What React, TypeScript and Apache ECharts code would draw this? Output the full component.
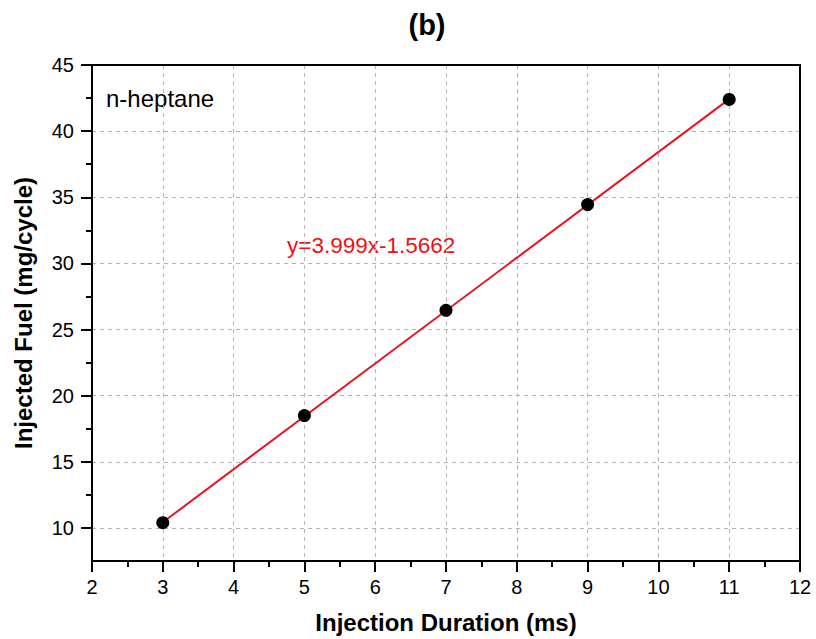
import React, { useEffect, useRef } from "react";
import * as echarts from "echarts";

// ---- data ----
const injectionDuration = [3, 5, 7, 9, 11];
const injectedFuel = [10.4, 18.5, 26.45, 34.45, 42.4];
const fitX = [3, 11];
const fitY = [10.43, 42.42];
const xRange = [2, 12];
const yRange = [7.5, 45];
const yLabelRange = [10, 45];
const xInterval = 1;
const yInterval = 5;
const titleText = "(b)";
const xName = "Injection Duration (ms)";
const yName = "Injected Fuel (mg/cycle)";
const fuelLabel = "n-heptane";
const equationLabel = "y=3.999x-1.5662";

const FONT = "'Liberation Sans', Arial, Helvetica, sans-serif";

export default function App() {
  const ref = useRef<HTMLDivElement>(null);
  useEffect(() => {
    if (!ref.current) return;
    const chart = echarts.init(ref.current, undefined, { renderer: "svg" });
    const W = 816, H = 639;
    const top = 65, bottomPx = 561, left = 92, rightPx = 800;
    const plotH = bottomPx - top;
    const y10px = top + ((yRange[1] - yLabelRange[0]) / (yRange[1] - yRange[0])) * plotH;
    const axisLineStyle = { color: "#000", width: 2 };
    const gridLine = { show: true, showMinLine: false, showMaxLine: false, lineStyle: { color: "#b4b4b4", width: 1, type: [4, 4] as any } };
    chart.setOption({
      animation: false,
      backgroundColor: "#fff",
      grid: [
        { left, right: W - rightPx, top, bottom: H - bottomPx },
        { left, right: W - rightPx, top, bottom: H - y10px },
      ],
      xAxis: [
        {
          gridIndex: 0, type: "value", position: "bottom", min: xRange[0], max: xRange[1], interval: xInterval,
          axisLine: { show: true, lineStyle: axisLineStyle },
          axisTick: { show: true, length: 11, lineStyle: { color: "#000", width: 2 } },
          minorTick: { show: true, splitNumber: 2, length: 6, lineStyle: { color: "#000", width: 2 } },
          axisLabel: { fontSize: 20, color: "#000", margin: 16, fontFamily: FONT },
          splitLine: gridLine,
          name: xName, nameLocation: "middle", nameGap: 49,
          nameTextStyle: { fontSize: 24, fontWeight: "bold", color: "#000", fontFamily: FONT },
        },
        {
          gridIndex: 0, type: "value", position: "top", min: xRange[0], max: xRange[1],
          axisLine: { show: true, lineStyle: axisLineStyle },
          axisTick: { show: false }, axisLabel: { show: false }, splitLine: { show: false },
        },
        { gridIndex: 1, type: "value", show: false, min: xRange[0], max: xRange[1] },
      ],
      yAxis: [
        {
          gridIndex: 0, type: "value", position: "left", min: yRange[0], max: yRange[1],
          axisLine: { show: true, lineStyle: axisLineStyle },
          axisTick: { show: false }, axisLabel: { show: false }, splitLine: { show: false },
          name: yName, nameLocation: "middle", nameGap: 57,
          nameTextStyle: { fontSize: 24, fontWeight: "bold", color: "#000", fontFamily: FONT },
        },
        {
          gridIndex: 0, type: "value", position: "right", min: yRange[0], max: yRange[1],
          axisLine: { show: true, lineStyle: axisLineStyle },
          axisTick: { show: false }, axisLabel: { show: false }, splitLine: { show: false },
        },
        {
          gridIndex: 1, type: "value", position: "left", min: yLabelRange[0], max: yLabelRange[1], interval: yInterval,
          axisLine: { show: false },
          axisTick: { show: true, length: 11, lineStyle: { color: "#000", width: 2 } },
          minorTick: { show: true, splitNumber: 2, length: 6, lineStyle: { color: "#000", width: 2 } },
          axisLabel: { fontSize: 20, color: "#000", margin: 18, fontFamily: FONT },
          splitLine: { show: true, showMinLine: true, showMaxLine: false, lineStyle: { color: "#b4b4b4", width: 1, type: [4, 4] as any } },
        },
      ],
      series: [
        {
          type: "line", xAxisIndex: 0, yAxisIndex: 0,
          data: fitX.map((x, i) => [x, fitY[i]]),
          symbol: "none", lineStyle: { color: "#e8141c", width: 2 }, z: 3,
        },
        {
          type: "scatter", xAxisIndex: 0, yAxisIndex: 0,
          data: injectionDuration.map((x, i) => [x, injectedFuel[i]]),
          symbol: "circle", symbolSize: 13, itemStyle: { color: "#000", opacity: 1 }, z: 4,
        },
      ],
      graphic: [
        {
          type: "text", x: 427, y: 25,
          style: { text: titleText, fill: "#000", font: `bold 29px ${FONT}`, align: "center", verticalAlign: "middle" },
        },
        {
          type: "text", x: 106, y: 98,
          style: { text: fuelLabel, fill: "#000", font: `24px ${FONT}`, align: "left", verticalAlign: "middle" },
        },
        {
          type: "text", x: 287, y: 245,
          style: { text: equationLabel, fill: "#ee1111", font: `22.5px ${FONT}`, align: "left", verticalAlign: "middle" },
        },
      ],
    });
    return () => chart.dispose();
  }, []);
  return <div ref={ref} style={{ position: "absolute", left: 0, top: 0, width: 816, height: 639 }} />;
}
